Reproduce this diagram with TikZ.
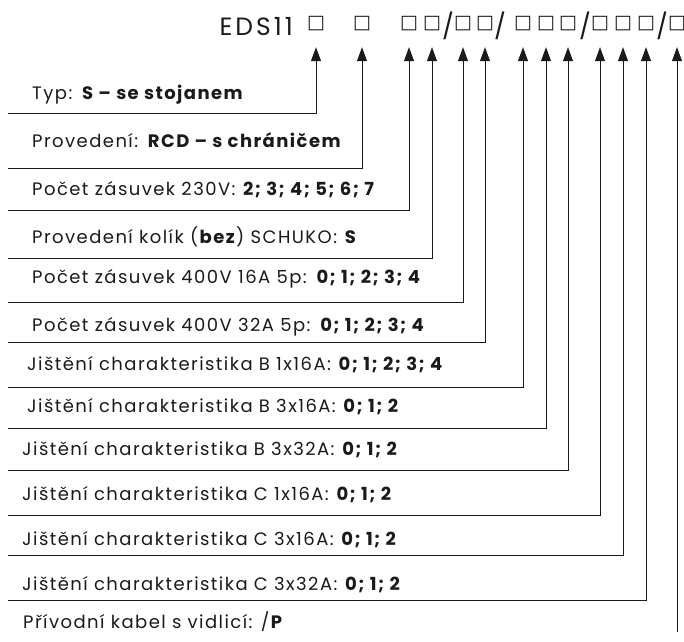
\documentclass[tikz,border=0pt]{standalone}
\usepackage{fontspec}
\setmainfont{Poppins}
\newfontfamily\labfont{Poppins}[LetterSpace=8]
\newfontfamily\headfont{Poppins}[LetterSpace=12]
\newfontfamily\symfont{DejaVu Sans}
\usetikzlibrary{arrows.meta}
\definecolor{ink}{HTML}{1A1A1A}
\tikzset{
  feed/.style={draw=ink, line width=0.9pt, -{Triangle[width=10pt,length=14pt]}, shorten >=19pt},
  lab/.style={anchor=base west, inner sep=0pt, text=ink, font=\labfont\fontsize{18}{20}\selectfont},
  slot/.style={anchor=base, inner sep=0pt, text height=10pt, text depth=0pt, text=ink, font=\symfont\fontsize{19}{20}\selectfont},
  head/.style={inner sep=0pt, text=ink, font=\headfont\fontsize{25}{28}\selectfont},
}

\begin{document}
\begin{tikzpicture}[x=1pt,y=-1pt]
  \useasboundingbox (0,0) rectangle (684,641);

  % code header
  \node[head,anchor=base east] (eds) at (293,35) {EDS11};
  \foreach \n/\x in {1/316,2/362,3/409,4/432,5/463,6/485,7/523,8/546,9/568,10/600,11/623,12/646,13/677}
    \node[slot] (s\n) at (\x,28) {□};
  \foreach \x in {448,500,585,662}
    \node[head,anchor=base] at (\x,35) {/};

  % labels
  \node[lab] (t1) at (32,99) {Typ: \textbf{S – se stojanem}};
  \node[lab] (t2) at (32,147) {Provedení: \textbf{RCD – s chráničem}};
  \node[lab] (t3) at (32,195) {Počet zásuvek 230V: \textbf{2; 3; 4; 5; 6; 7}};
  \node[lab] (t4) at (32,243) {Provedení kolík (\textbf{bez}) SCHUKO: \textbf{S}};
  \node[lab] (t5) at (32,283) {Počet zásuvek 400V 16A 5p: \textbf{0; 1; 2; 3; 4}};
  \node[lab] (t6) at (32,331) {Počet zásuvek 400V 32A 5p: \textbf{0; 1; 2; 3; 4}};
  \node[lab] (t7) at (27,370) {Jištění charakteristika B 1x16A: \textbf{0; 1; 2; 3; 4}};
  \node[lab] (t8) at (27,412) {Jištění charakteristika B 3x16A: \textbf{0; 1; 2}};
  \node[lab] (t9) at (22,455) {Jištění charakteristika B 3x32A: \textbf{0; 1; 2}};
  \node[lab] (t10) at (22,500) {Jištění charakteristika C 1x16A: \textbf{0; 1; 2}};
  \node[lab] (t11) at (22,545) {Jištění charakteristika C 3x16A: \textbf{0; 1; 2}};
  \node[lab] (t12) at (22,590) {Jištění charakteristika C 3x32A: \textbf{0; 1; 2}};
  \node[lab] (t13) at (23,628) {Přívodní kabel s vidlicí: /\textbf{P}};

  % leader lines
  \foreach \n/\y in {1/113,2/168,3/210,4/258,5/302,6/342,7/387,8/428,9/470,10/515,11/555,12/600}
    \coordinate (l\n) at (8,\y);
  \coordinate (l13) at (677,632);
  \foreach \n in {1,...,12}
    \draw[feed] (l\n) -| (s\n.south);
  \draw[feed] (l13) -- (s13.south);
\end{tikzpicture}
\end{document}
